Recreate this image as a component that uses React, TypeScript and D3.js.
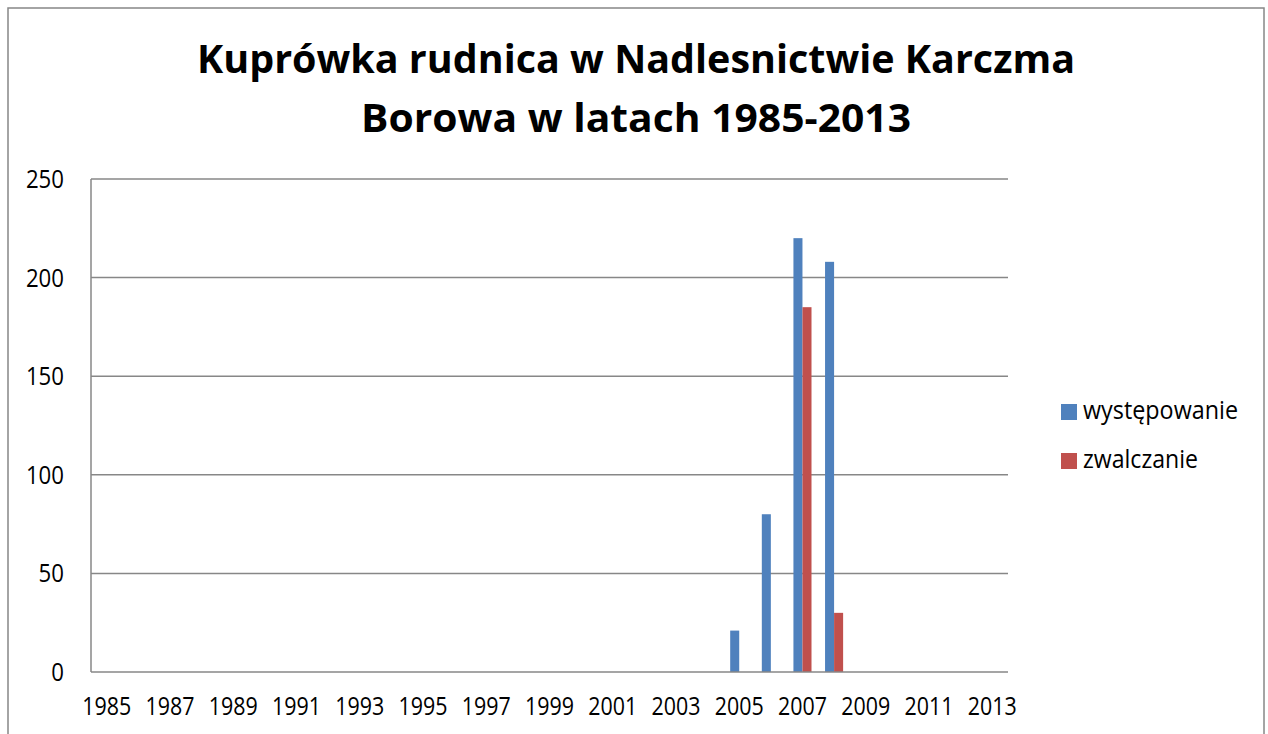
import React, { useEffect, useRef } from "react";
import * as d3 from "d3";

// lata 1985-2013
const years = [
  "1985", "1986", "1987", "1988", "1989", "1990", "1991", "1992", "1993", "1994",
  "1995", "1996", "1997", "1998", "1999", "2000", "2001", "2002", "2003", "2004",
  "2005", "2006", "2007", "2008", "2009", "2010", "2011", "2012", "2013",
];
const wystepowanie = [
  0, 0, 0, 0, 0, 0, 0, 0, 0, 0,
  0, 0, 0, 0, 0, 0, 0, 0, 0, 0,
  21, 80, 220, 208, 0, 0, 0, 0, 0,
];
const zwalczanie = [
  0, 0, 0, 0, 0, 0, 0, 0, 0, 0,
  0, 0, 0, 0, 0, 0, 0, 0, 0, 0,
  0, 0, 185, 30, 0, 0, 0, 0, 0,
];
const seriesNames = ["występowanie", "zwalczanie"];
const seriesColors = ["#4F81BD", "#C0504D"];
const yTicks = [0, 50, 100, 150, 200, 250];
const titleLines = ["Kuprówka rudnica w Nadlesnictwie Karczma", "Borowa w latach 1985-2013"];

const W = 1268, H = 734;
const FONT = "'Open Sans', 'Liberation Sans', sans-serif";

function Chart() {
  const ref = useRef<SVGSVGElement>(null);

  useEffect(() => {
    const svg = d3.select(ref.current);
    svg.selectAll("*").remove();

    const plot = { left: 91, right: 1008, top: 179, bottom: 672 };
    const gridColor = "#878787";

    // ramka wykresu
    svg.append("rect")
      .attr("x", 8).attr("y", 8)
      .attr("width", 1256).attr("height", 740)
      .attr("fill", "#fff")
      .attr("stroke", gridColor)
      .attr("stroke-width", 1.5);

    // tytul
    const title = svg.append("g").attr("font-family", FONT).attr("font-weight", 700).attr("font-size", 39.5);
    title.selectAll("text")
      .data(titleLines)
      .join("text")
      .attr("x", 636)
      .attr("y", (d, i) => 73 + i * 59)
      .attr("text-anchor", "middle")
      .attr("textLength", (d, i) => (i === 0 ? 878 : 550))
      .attr("lengthAdjust", "spacingAndGlyphs")
      .attr("fill", "#000")
      .text(d => d);

    const x0 = d3.scaleBand().domain(years).range([plot.left, plot.right]).padding(0);
    const bw = x0.bandwidth();
    const barW = bw / 3.5;
    const x1 = d3.scaleBand().domain(seriesNames).range([bw / 2 - barW, bw / 2 + barW]).padding(0);
    const y = d3.scaleLinear().domain([0, 250]).range([plot.bottom, plot.top]);

    // linie siatki
    svg.append("g")
      .selectAll("line")
      .data(yTicks.filter(t => t > 0))
      .join("line")
      .attr("x1", plot.left).attr("x2", plot.right)
      .attr("y1", d => y(d)).attr("y2", d => y(d))
      .attr("stroke", gridColor)
      .attr("stroke-width", 1.5);

    // slupki
    const series = [wystepowanie, zwalczanie];
    series.forEach((vals, si) => {
      svg.append("g")
        .selectAll("rect")
        .data(vals.map((v, i) => ({ year: years[i], v })).filter(d => d.v > 0))
        .join("rect")
        .attr("x", d => (x0(d.year) as number) + (x1(seriesNames[si]) as number))
        .attr("y", d => y(d.v))
        .attr("width", x1.bandwidth())
        .attr("height", d => y(0) - y(d.v))
        .attr("fill", seriesColors[si]);
    });

    // osie
    svg.append("line")
      .attr("x1", plot.left).attr("x2", plot.left)
      .attr("y1", plot.top).attr("y2", plot.bottom)
      .attr("stroke", gridColor).attr("stroke-width", 1.5);
    svg.append("line")
      .attr("x1", plot.left).attr("x2", plot.right)
      .attr("y1", plot.bottom).attr("y2", plot.bottom)
      .attr("stroke", gridColor).attr("stroke-width", 1.5);

    svg.append("g")
      .attr("font-family", FONT).attr("font-size", 25)
      .selectAll("text")
      .data(yTicks)
      .join("text")
      .attr("x", 64)
      .attr("y", d => y(d) + 9)
      .attr("text-anchor", "end")
      .attr("textLength", d => String(d).length * 12.7)
      .attr("lengthAdjust", "spacingAndGlyphs")
      .attr("fill", "#000")
      .text(d => d);

    svg.append("g")
      .attr("font-family", FONT).attr("font-size", 25)
      .selectAll("text")
      .data(years.filter((d, i) => i % 2 === 0))
      .join("text")
      .attr("x", d => (x0(d) as number) + bw / 2)
      .attr("y", 715)
      .attr("text-anchor", "middle")
      .attr("textLength", 49)
      .attr("lengthAdjust", "spacingAndGlyphs")
      .attr("fill", "#000")
      .text(d => d);

    // legenda
    const leg = svg.append("g").attr("font-family", FONT).attr("font-size", 26);
    seriesNames.forEach((name, i) => {
      const ly = 404 + i * 49;
      leg.append("rect")
        .attr("x", 1061).attr("y", ly)
        .attr("width", 16).attr("height", 16)
        .attr("fill", seriesColors[i]);
      leg.append("text")
        .attr("x", 1083).attr("y", ly + 15)
        .attr("textLength", i === 0 ? 155 : 115)
        .attr("lengthAdjust", "spacingAndGlyphs")
        .attr("fill", "#000")
        .text(name);
    });
  }, []);

  return (
    <svg
      ref={ref}
      width={W}
      height={H}
      style={{ position: "absolute", left: 0, top: 0, background: "#fff" }}
    />
  );
}

export default function App() {
  return <Chart />;
}
